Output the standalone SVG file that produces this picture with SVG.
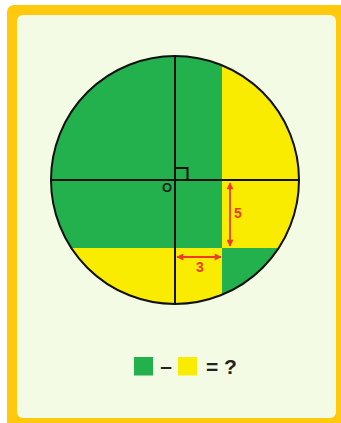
<svg xmlns="http://www.w3.org/2000/svg" width="341" height="423" viewBox="0 0 341 423">
<style>
.ln{stroke:#111;stroke-width:2;fill:none}
.dim{stroke:#ED3A2A;stroke-width:1.8;fill:none;marker-start:url(#ah);marker-end:url(#ah)}
.lbl{font-family:"Liberation Sans",Arial,sans-serif;font-weight:bold;fill:#ED3A2A;font-size:14px;text-anchor:middle;dominant-baseline:central}
.eq{font-family:"Liberation Sans",Arial,sans-serif;font-weight:bold;fill:#222;font-size:21px;dominant-baseline:central}
.g{fill:#22B14C}
.y{fill:#FAEC00}
</style>
<defs>
<clipPath id="cc"><circle cx="175" cy="180" r="124"/></clipPath>
<marker id="ah" viewBox="0 0 10 10" refX="9" refY="5" markerWidth="8" markerHeight="7" orient="auto-start-reverse" markerUnits="userSpaceOnUse">
<path d="M0,0 L10,5 L0,10 z" fill="#ED3A2A"/>
</marker>
</defs>
<rect x="7" y="5" width="345" height="430" rx="7" fill="#FFC90E"/>
<rect x="17" y="15" width="319" height="403" rx="6" fill="#F3FBE4"/>
<g id="circle">
<circle cx="175" cy="180" r="124" class="g"/>
<g clip-path="url(#cc)">
<rect x="222" y="40" width="90" height="208" class="y"/>
<rect x="40" y="248" width="182" height="70" class="y"/>
</g>
<circle cx="175" cy="180" r="124" class="ln"/>
</g>
<g id="axes">
<line x1="175" y1="56" x2="175" y2="304" class="ln"/>
<line x1="51" y1="180" x2="299" y2="180" class="ln"/>
<path d="M175,168 H187.5 V180" class="ln" stroke-width="1.6"/>
<text x="167" y="187" font-family="Liberation Sans,Arial,sans-serif" font-weight="bold" font-size="13" fill="#222" text-anchor="middle" dominant-baseline="central">O</text>
</g>
<g id="dims">
<line x1="230" y1="183" x2="230" y2="246" class="dim"/>
<text x="238" y="213" class="lbl">5</text>
<line x1="177" y1="257" x2="221" y2="257" class="dim"/>
<text x="200" y="267" class="lbl">3</text>
</g>
<g id="legend">
<rect x="134" y="357" width="19" height="18.5" class="g"/>
<text x="166" y="365" class="eq" text-anchor="middle">–</text>
<rect x="178" y="357" width="19" height="18.5" class="y"/>
<text x="206" y="366" class="eq">= ?</text>
</g>
</svg>
